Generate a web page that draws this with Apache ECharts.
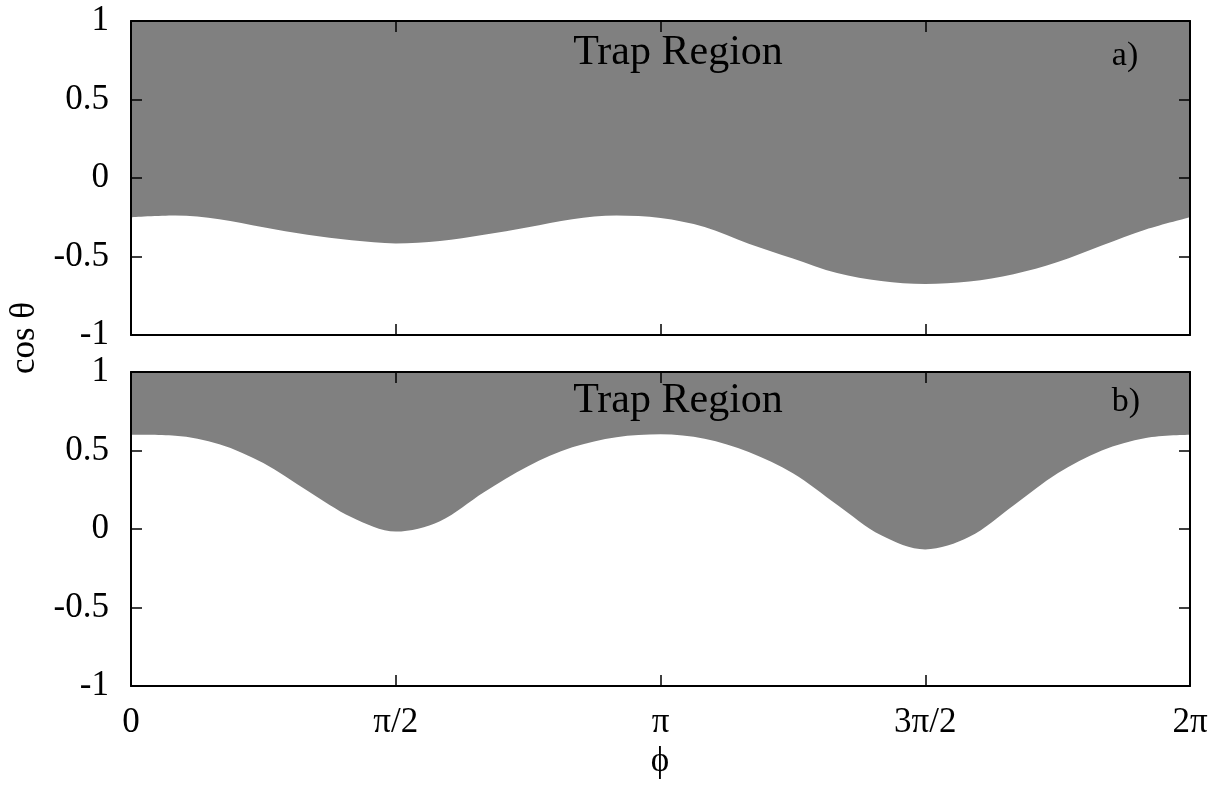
<!DOCTYPE html>
<html>
<head>
    <meta charset="utf-8">
    <title>Trap Region</title>
    <script src="https://cdn.jsdelivr.net/npm/echarts@6/dist/echarts.min.js"></script>
</head>
<body style="margin:0;background:#fff;">
<div id="main" style="width: 1225px;height:785px;"></div>
<script type="text/javascript">
    var myChart = echarts.init(document.getElementById('main'));

    // phi samples (rad), every pi/12
    var phi = [0, 0.262, 0.524, 0.785, 1.047, 1.309, 1.571, 1.833, 2.094, 2.356, 2.618, 2.880, 3.142,
        3.403, 3.665, 3.927, 4.189, 4.451, 4.712, 4.974, 5.236, 5.498, 5.760, 6.021, 6.283];
    // lower edge of the trap region, panel a) and b)
    var cosA = [-0.25, -0.239, -0.262, -0.314, -0.362, -0.397, -0.417, -0.402, -0.362, -0.314, -0.262, -0.239, -0.255,
        -0.312, -0.418, -0.512, -0.605, -0.656, -0.675, -0.66, -0.613, -0.535, -0.43, -0.328, -0.25];
    var cosB = [0.60, 0.594, 0.54, 0.42, 0.244, 0.075, -0.016, 0.05, 0.234, 0.40, 0.52, 0.585, 0.604,
        0.575, 0.49, 0.355, 0.155, -0.04, -0.13, -0.05, 0.15, 0.355, 0.50, 0.58, 0.60];

    var xTickLabels = ['0', 'π/2', 'π', '3π/2', '2π'];

    var serif = '"Liberation Serif", "DejaVu Serif", serif';
    var fill = '#808080';

    function pairs(xs, ys) {
        return xs.map(function (x, i) { return [x, ys[i]]; });
    }

    function xAxisOf(grid, pos, labels) {
        return {
            type: 'value', gridIndex: grid, position: pos,
            min: 0, max: 2 * Math.PI, interval: Math.PI / 2, z: 10,
            axisLine: { show: true, onZero: false, lineStyle: { color: '#000', width: 2 } },
            axisTick: { show: true, inside: true, length: 11, lineStyle: { color: '#000', width: 1.5 } },
            splitLine: { show: false },
            axisLabel: {
                show: labels, margin: 19, color: '#000', fontFamily: serif, fontSize: 35,
                showMinLabel: true, showMaxLabel: true,
                formatter: function (v) { return xTickLabels[Math.round(v / (Math.PI / 2))]; }
            }
        };
    }

    function yAxisOf(grid, pos, labels) {
        return {
            type: 'value', gridIndex: grid, position: pos,
            min: -1, max: 1, interval: 0.5, z: 10,
            axisLine: { show: true, onZero: false, lineStyle: { color: '#000', width: 2 } },
            axisTick: { show: true, inside: true, length: 11, lineStyle: { color: '#000', width: 1.5 } },
            splitLine: { show: false },
            axisLabel: {
                show: labels, margin: 22, color: '#000', fontFamily: serif, fontSize: 35,
                formatter: function (v) { return String(v); }
            }
        };
    }

    function regionSeries(grid, data) {
        return {
            type: 'line', xAxisIndex: grid * 2, yAxisIndex: grid * 2,
            data: data, smooth: 0.33, showSymbol: false, silent: true,
            lineStyle: { width: 0, color: fill },
            areaStyle: { color: fill, opacity: 1, origin: 'end' }
        };
    }

    function label(text, x, y, size, rot) {
        return {
            type: 'text', x: x, y: y, rotation: rot || 0, z: 20,
            style: {
                text: text, fill: '#000', font: size + 'px ' + serif,
                textAlign: 'center', textVerticalAlign: 'middle'
            }
        };
    }

    option = {
        backgroundColor: '#fff',
        animation: false,
        grid: [
            { left: 131, top: 21, width: 1059, height: 314 },
            { left: 131, top: 372, width: 1059, height: 314 }
        ],
        xAxis: [
            xAxisOf(0, 'bottom', false), xAxisOf(0, 'top', false),
            xAxisOf(1, 'bottom', true), xAxisOf(1, 'top', false)
        ],
        yAxis: [
            yAxisOf(0, 'left', true), yAxisOf(0, 'right', false),
            yAxisOf(1, 'left', true), yAxisOf(1, 'right', false)
        ],
        series: [
            regionSeries(0, pairs(phi, cosA)),
            regionSeries(1, pairs(phi, cosB))
        ],
        graphic: [
            label('Trap Region', 678, 53, 42),
            label('a)', 1125, 56, 34),
            label('Trap Region', 678, 401, 42),
            label('b)', 1126, 402, 34),
            label('cos θ', 25, 338, 35, Math.PI / 2),
            label('ϕ', 660, 762, 35)
        ]
    };

    myChart.setOption(option);
</script>
</body>
</html>
